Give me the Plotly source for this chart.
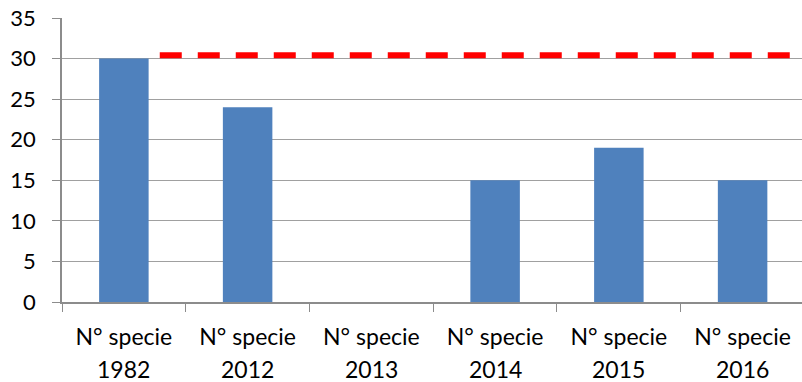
import plotly.graph_objects as go

years = ["1982", "2012", "2013", "2014", "2015", "2016"]
label_prefix = "N° specie"
values = [30, 24, None, 15, 19, 15]
threshold = 30.4
y_ticks = [0, 5, 10, 15, 20, 25, 30, 35]

categories = [f"{label_prefix} {y}" for y in years]

FONT = "Lato, Open Sans, sans-serif"

fig = go.Figure()
fig.add_trace(go.Bar(x=categories, y=values, marker=dict(color="#4F81BD", line=dict(width=0)),
                     showlegend=False, hoverinfo="skip"))

fig.add_shape(type="line", xref="x", yref="y", x0=0.29, x1=5.6, y0=threshold, y1=threshold,
              line=dict(color="#FF0000", width=6, dash="22px,16px"), layer="above")

for c, y in zip(categories, years):
    fig.add_annotation(x=c, y=0, xref="x", yref="paper", text=y, showarrow=False,
                       yanchor="middle", yshift=-67, font=dict(size=23, family=FONT, color="#000000"))

fig.update_layout(
    width=802, height=382,
    margin=dict(l=62, r=0, t=18, b=80),
    plot_bgcolor="white", paper_bgcolor="white",
    bargap=0.6,
    font=dict(family=FONT, color="#000000"),
    xaxis=dict(
        automargin=False,
        tickvals=categories, ticktext=[label_prefix] * len(categories),
        showline=True, linecolor="#8c8c8c", linewidth=1.5,
        ticks="outside", tickson="boundaries", ticklen=8, tickcolor="#8c8c8c",
        tickfont=dict(size=23, family=FONT), showgrid=False,
        ticklabelstandoff=14,
        range=[-0.5, 5.48],
    ),
    yaxis=dict(
        automargin=False,
        range=[0, 35], tickvals=y_ticks, showgrid=True, gridcolor="#a0a0a0", gridwidth=1.3,
        showline=True, linecolor="#8c8c8c", linewidth=1.5,
        ticks="outside", ticklen=8, tickcolor="#8c8c8c",
        tickfont=dict(size=22, family=FONT), zeroline=False,
        ticklabelstandoff=12,
    ),
)

fig.write_html("out.html", config={"displayModeBar": False},
               post_script="document.body.style.margin='0';")
